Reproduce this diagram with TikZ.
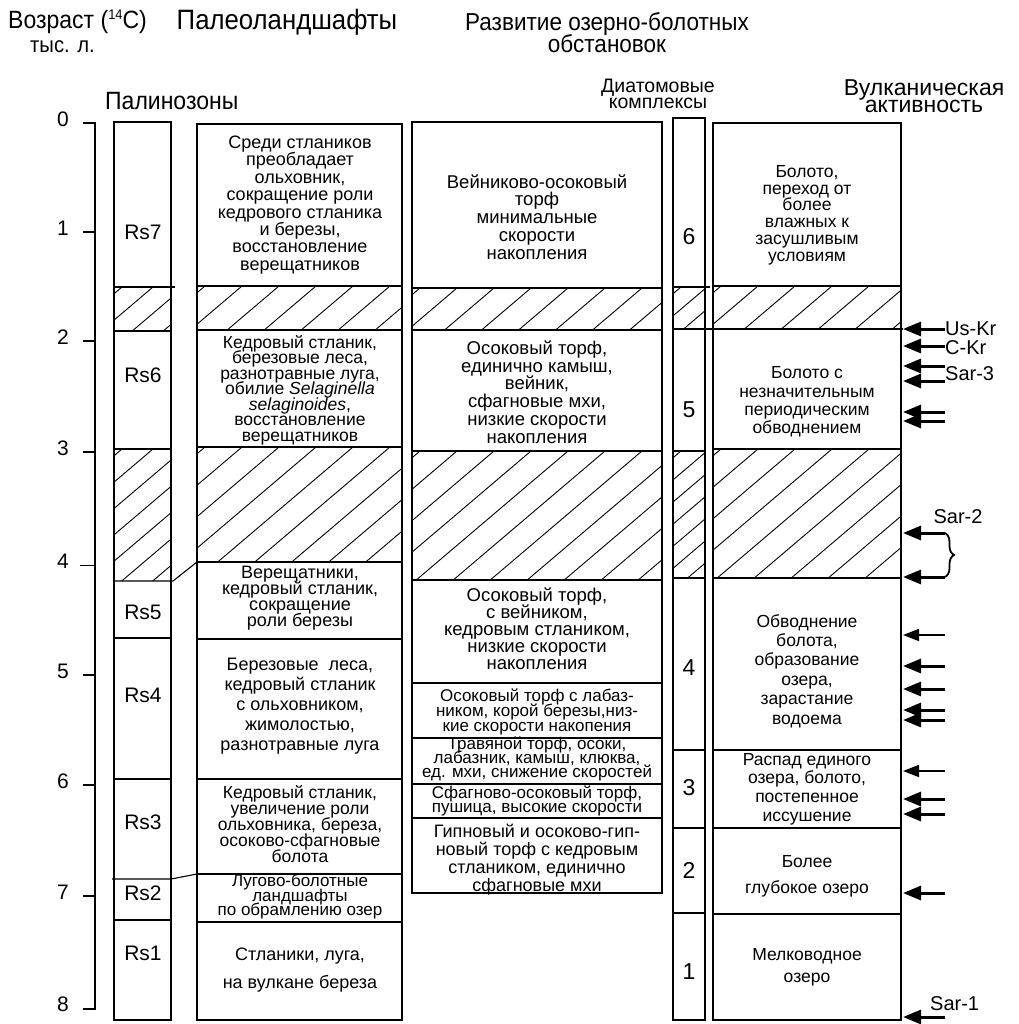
\documentclass[tikz,border=0pt]{standalone}
\usepackage{fontspec}
\setmainfont{Liberation Sans}
\newfontfamily\nar[FakeStretch=0.92]{Liberation Sans}
\usetikzlibrary{arrows.meta,decorations.pathreplacing}
\newcommand{\myhatch}[5]{%
  \begin{scope}
  \clip (#1,#2) rectangle (#3,#4);
  \pgfmathsetmacro{\hx}{(#4-#2)/0.85}
  \pgfmathsetmacro{\hy}{#4-#2}
  \foreach \k in {0,...,17}{
    \draw[hl] ({#1-\hx+\k*#5+8},#4) -- ++(\hx,-\hy);
  }
  \end{scope}}
\newcommand{\fs}[2]{\fontsize{#1}{#2}\selectfont\lineskiplimit=-100pt\lineskip=0pt\relax}
\tikzset{
  box/.style={line width=1.4pt},
  div/.style={line width=1.1pt},
  hl/.style={line width=0.9pt},
  tick/.style={line width=1.6pt},
  txt/.style={align=center, inner sep=0pt},
  num/.style={inner sep=0pt, font=\fs{21}{21}},
  head/.style={align=center, inner sep=0pt},
  shead/.style={align=center, inner sep=0pt},
  lab/.style={inner sep=0pt, font=\fs{20}{20}},
  bigarrow/.style={line width=3pt, -{Triangle[length=18pt,width=14pt]}},
  thinarrow/.style={line width=1.6pt, -{Triangle[length=16pt,width=12pt]}},
}
\begin{document}
\lineskiplimit=-100pt\lineskip=0pt\relax
\begin{tikzpicture}[x=1pt,y=-1pt]
\useasboundingbox (0,0) rectangle (1018,1024);
% headers
\node[head,font=\nar\fs{28}{24}] (hpal) at (287,22) {Палеоландшафты};
\node[head,font=\nar\fs{24.5}{22}] (hlake) at (607,33) {Развитие озерно-болотных\\обстановок};
\node[lab,anchor=west,font=\nar\fs{25}{25}] (hage) at (8,22) {Возраст (\raisebox{0.7ex}{\fs{14}{14}14}C)};
\node[lab,anchor=west,font=\nar\fs{22}{22}] (hka) at (30,47) {тыс. л.};
\node[lab,anchor=west,font=\nar\fs{25}{25}] (hpz) at (105,101) {Палинозоны};
\node[shead,font=\fs{19.5}{16}] (hdia) at (658,94) {Диатомовые\\комплексы};
\node[shead,font=\fs{23}{17.5}] (hvol) at (924,96) {Вулканическая\\активность};
% axis
\draw[box] (83,123) -- (95,123) -- (95,1009) -- (83,1009);
\foreach \t/\yy in {1/232,2/341,3/452,5/675,6/785,7/896}{\draw[tick] (83,\yy) -- (95,\yy);}
\draw[hl] (80,565) -- (95,565);
\foreach \t/\yy in {0/123,1/232,2/341,3/452,4/565,5/675,6/785,7/896,8/1008}{\node[num] (a\t) at (63,\yy-4) {\t};}
% column outlines
\draw[box] (114,122) rectangle (171,1020);
\draw[box] (197,124) rectangle (402,1020);
\draw[box] (412,122) rectangle (662,893);
\draw[box] (673,118) rectangle (705,1020);
\draw[box] (713,123) rectangle (901,1020);
% hatches
\myhatch{114}{287}{171}{331}{31}
\myhatch{114}{449}{171}{581}{31}
\myhatch{197}{286}{402}{330}{37}
\myhatch{197}{447}{402}{562}{37}
\myhatch{412}{288}{662}{330}{37}
\myhatch{412}{451}{662}{580}{37}
\myhatch{673}{287}{705}{329}{26}
\myhatch{673}{451}{705}{578}{26}
\myhatch{713}{286}{901}{329}{37}
\myhatch{713}{449}{901}{578}{37}
% division lines: palynozones
\draw[div] (114,287) -- (175,287);
\draw[div] (114,331) -- (171,331);
\draw[div] (114,449) -- (171,449);
\draw[div] (114,581) -- (173,581) -- (197,562);
\draw[div] (114,638) -- (171,638);
\draw[div] (114,779) -- (171,779);
\draw[div] (112,879) -- (171,879) -- (197,874);
\draw[div] (114,920) -- (171,920);
% palaeolandscapes
\foreach \yy in {286,330,447,562,639,779,874,922}{\draw[div] (197,\yy) -- (402,\yy);}
% lake-bog
\foreach \yy in {288,330,451,580,683,738,784,818}{\draw[div] (412,\yy) -- (662,\yy);}
% diatoms
\draw[div] (673,287) -- (710,287);
\draw[div] (673,329) -- (903,329);
\foreach \yy in {451,578,750,828,913}{\draw[div] (673,\yy) -- (705,\yy);}
% volcanic column
\foreach \yy in {286,449,578,750,828,914}{\draw[div] (713,\yy) -- (901,\yy);}
% palynozone labels
\node[num] (rs7) at (143,232) {Rs7};
\node[num] (rs6) at (143,375) {Rs6};
\node[num] (rs5) at (143,612) {Rs5};
\node[num] (rs4) at (143,695) {Rs4};
\node[num] (rs3) at (143,822) {Rs3};
\node[num] (rs2) at (143,893) {Rs2};
\node[num] (rs1) at (143,953) {Rs1};
% palaeolandscape texts
\node[txt,font=\fs{18}{17.4}] (p1) at (300,205) {Среди стлаников\\преобладает\\ольховник,\\сокращение роли\\кедрового стланика\\и березы,\\восстановление\\верещатников};
\node[txt,font=\fs{17.5}{15.5}] (p2) at (300,390) {Кедровый стланик,\\березовые леса,\\разнотравные луга,\\обилие \textit{Selaginella}\\\textit{selaginoides},\\восстановление\\верещатников};
\node[txt,font=\fs{18}{16}] (p3) at (300,598) {Верещатники,\\кедровый стланик,\\сокращение\\роли березы};
\node[txt,font=\fs{18}{20}] (p4) at (300,706) {Березовые\ \ леса,\\кедровый стланик\\с ольховником,\\жимолостью,\\разнотравные луга};
\node[txt,font=\fs{17.5}{15.8}] (p5) at (300,824) {Кедровый стланик,\\увеличение роли\\ольховника, береза,\\осоково-сфагновые\\болота};
\node[txt,font=\fs{17}{14.5}] (p6) at (300,897) {Лугово-болотные\\ландшафты\\по обрамлению озер};
\node[txt,font=\fs{18}{28}] (p7) at (300,970) {Стланики, луга,\\на вулкане береза};
% lake-bog texts
\node[txt,font=\fs{18.5}{17.8}] (l1) at (537,217) {Вейниково-осоковый\\торф\\минимальные\\скорости\\накопления};
\node[txt,font=\fs{18.5}{17.8}] (l2) at (537,392) {Осоковый торф,\\единично камыш,\\вейник,\\сфагновые мхи,\\низкие скорости\\накопления};
\node[txt,font=\fs{18.5}{17}] (l3) at (537,629) {Осоковый торф,\\с вейником,\\кедровым стлаником,\\низкие скорости\\накопления};
\node[txt,font=\fs{17}{15}] (l4) at (537,712) {Осоковый торф с лабаз-\\ником, корой березы,низ-\\кие скорости накопения};
\node[txt,font=\fs{17}{14.2}] (l5) at (537,759) {Травяной торф, осоки,\\лабазник, камыш, клюква,\\ед. мхи, снижение скоростей};
\node[txt,font=\fs{17}{14.2}] (l6) at (537,801) {Сфагново-осоковый торф,\\пушица, высокие скорости};
\node[txt,font=\fs{18}{18}] (l7) at (537,860) {Гипновый и осоково-гип-\\новый торф с кедровым\\стлаником, единично\\сфагновые мхи};
% diatom numbers
\node[num,font=\fs{23}{23}] (d6) at (689,237) {6};
\node[num,font=\fs{23}{23}] (d5) at (689,410) {5};
\node[num,font=\fs{23}{23}] (d4) at (689,668) {4};
\node[num,font=\fs{23}{23}] (d3) at (689,788) {3};
\node[num,font=\fs{23}{23}] (d2) at (689,870) {2};
\node[num,font=\fs{23}{23}] (d1) at (689,972) {1};
% volcanic column texts
\node[txt,font=\fs{17.5}{16.8}] (v1) at (807,215) {Болото,\\переход от\\более\\влажных к\\засушливым\\условиям};
\node[txt,font=\fs{17.5}{18.3}] (v2) at (807,402) {Болото с\\незначительным\\периодическим\\обводнением};
\node[txt,font=\fs{17.5}{19.4}] (v3) at (807,671) {Обводнение\\болота,\\образование\\озера,\\зарастание\\водоема};
\node[txt,font=\fs{17.5}{18.7}] (v4) at (807,789) {Распад единого\\озера, болото,\\постепенное\\иссушение};
\node[txt,font=\fs{17.5}{26}] (v5) at (807,876) {Более\\глубокое озеро};
\node[txt,font=\fs{17.5}{22}] (v6) at (807,967) {Мелководное\\озеро};
% arrows
\foreach \n/\yy in {a/329,b/346,c/366,d/381,e/412,f/421,g/533,h/577,i/635,j/666,k/689,l/710,m/720,n/771,o/799,p/814,q/893,r/1017}{
  \coordinate (t\n) at (945,\yy);
  \coordinate (h\n) at (903,\yy);
}
\foreach \n in {a,b,c,d,e,f,g,h,j,k,l,m,o,p,q,r}{\draw[bigarrow] (t\n) -- (h\n);}
\foreach \n in {i,n}{\draw[thinarrow] (t\n) -- (h\n);}
\draw[line width=1.8pt,decorate,decoration={brace,amplitude=9pt}] (tg) -- (th);
\node[lab,anchor=west] (usk) at (945,329) {Us-Kr};
\node[lab,anchor=west] (ckr) at (945,348) {C-Kr};
\node[lab,anchor=west] (sar3) at (945,374) {Sar-3};
\node[lab] (sar2) at (958,517) {Sar-2};
\node[lab,anchor=west] (sar1) at (930,1004) {Sar-1};
\end{tikzpicture}
\end{document}
